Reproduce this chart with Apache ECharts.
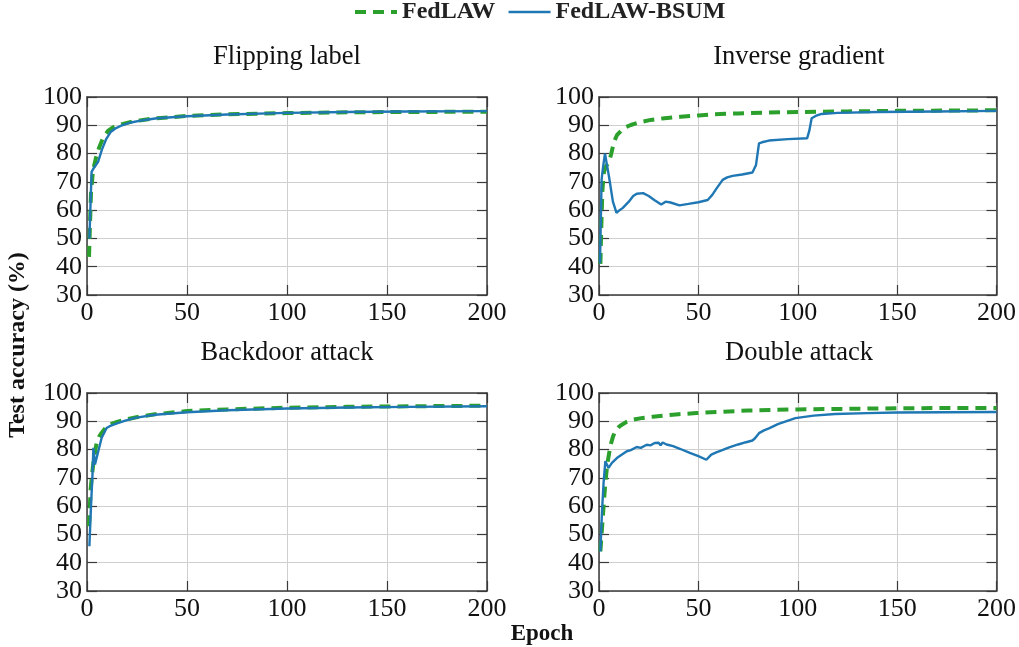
<!DOCTYPE html>
<html>
<head>
<meta charset="utf-8">
<script src="https://cdn.jsdelivr.net/npm/echarts@6/dist/echarts.min.js"></script>
<style>html,body{margin:0;padding:0;background:#fff;}#c{width:1019px;height:647px;}</style>
</head>
<body>
<div id="c"></div>
<script>
// ---- Data ----
const panelTitles = ['Flipping label', 'Inverse gradient', 'Backdoor attack', 'Double attack'];
const xTicks = [0, 50, 100, 150, 200];
const yTicks = [30, 40, 50, 60, 70, 80, 90, 100];

const flipEpochsFed = [1, 1.5, 2, 3, 4.5, 6, 8, 10.5, 13, 17, 22, 28, 35, 50, 70, 100, 130, 160, 200];
const flipFedLAW    = [43.5, 55, 66, 74, 78.5, 82, 85.5, 88, 89.3, 90.3, 91.2, 91.9, 92.5, 93.3, 93.9, 94.3, 94.6, 94.7, 94.8];
const flipEpochsBsum = [1.2, 1.8, 2.3, 3.5, 5.5, 7.5, 9.5, 11.8, 14, 17.5, 22, 28, 35, 50, 70, 100, 130, 160, 200];
const flipBSUM       = [50, 63, 73.5, 75, 77, 81.5, 85, 87.6, 88.8, 90, 91, 91.8, 92.5, 93.2, 93.8, 94.4, 94.7, 94.9, 95];

const invEpochsFed = [0.7, 1.2, 1.7, 2.5, 3.5, 5, 6, 7.5, 9, 11, 13, 16, 20, 26, 33, 41, 50, 58, 70, 85, 100, 125, 150, 175, 200];
const invFedLAW    = [41, 55, 67, 73.5, 75.5, 77, 79.5, 84, 86.5, 88, 89.2, 90.1, 91, 91.9, 92.5, 93, 93.5, 93.9, 94.2, 94.5, 94.7, 94.9, 95.1, 95.2, 95.3];
const invEpochsBsum = [0.5, 1.3, 2, 3, 4, 5, 7, 8.8, 10, 12, 15, 17.2, 19, 22.2, 25, 28, 31.3, 33.5, 36, 40.5, 45, 50, 54.7, 57, 59, 62.2, 64.5, 67.2, 72, 77.2, 79, 80.5, 82, 85.5, 95, 104.7, 105.8, 107, 109, 112, 120, 140, 170, 200];
const invBSUM       = [41.2, 70.7, 75, 80, 76, 72, 63, 59, 59.8, 60.8, 63, 65, 65.8, 66, 65, 63.5, 62, 63, 62.7, 61.7, 62.2, 62.8, 63.6, 65.4, 67.5, 70.7, 71.6, 72.1, 72.6, 73.3, 76, 83.6, 84, 84.6, 85.1, 85.4, 88, 92.5, 93.3, 94, 94.4, 94.7, 94.9, 95.1];

const backEpochsFed = [1, 1.8, 2.5, 3.2, 4, 4.8, 6, 7.3, 9.8, 12, 15, 20, 26, 34, 50, 70, 100, 130, 160, 200];
const backFedLAW    = [52.9, 65.8, 71, 75.3, 79, 82.3, 84.5, 85.9, 88.2, 89, 89.8, 90.7, 91.6, 92.5, 93.6, 94.2, 94.8, 95.1, 95.3, 95.5];
const backEpochsBsum = [1.2, 2, 2.7, 3.2, 4, 4.8, 5.5, 7.3, 9.8, 12, 15.7, 20, 24, 34, 50, 70, 100, 130, 160, 200];
const backBSUM       = [45.8, 60, 70.5, 80.6, 74.7, 77, 76.5, 84.1, 87.6, 88.5, 89.4, 90.4, 91.2, 92.3, 93.2, 93.9, 94.5, 94.9, 95.1, 95.3];

const dblEpochsFed = [0.7, 1.5, 2.5, 3.3, 4.2, 5.7, 7, 8.2, 10, 11.5, 14, 17.3, 22, 27, 32.3, 40, 49, 59, 75, 100, 125, 150, 175, 200];
const dblFedLAW    = [44, 52, 62, 69, 75, 81.2, 84.5, 86.5, 88, 88.8, 89.8, 90.6, 91.2, 91.6, 92, 92.5, 92.9, 93.3, 93.8, 94.2, 94.4, 94.6, 94.7, 94.7];
const dblEpochsBsum = [0.7, 1.5, 2.3, 3.2, 4.8, 6.5, 9, 11, 14, 16, 19, 21, 24, 26, 28, 29, 30, 31, 32, 34, 37.3, 41, 45.7, 50, 54, 54.8, 56.5, 59, 62, 65.5, 70, 74, 77.2, 78.5, 80.5, 83, 85.5, 90, 98.8, 108, 118.8, 135, 150, 175, 200];
const dblBSUM       = [44, 58, 68.2, 75.9, 73.5, 75.3, 77, 78, 79.4, 79.8, 80.9, 80.6, 81.7, 81.5, 82.3, 81.6, 82.4, 81.5, 82.5, 81.8, 81.2, 80.2, 78.8, 77.7, 76.4, 76, 78.2, 79, 79.8, 80.8, 81.8, 82.6, 83.2, 84, 85.8, 86.8, 87.5, 89, 91.1, 92, 92.6, 92.9, 93.1, 93.2, 93.3];

const fedSets  = [[flipEpochsFed, flipFedLAW], [invEpochsFed, invFedLAW], [backEpochsFed, backFedLAW], [dblEpochsFed, dblFedLAW]];
const bsumSets = [[flipEpochsBsum, flipBSUM], [invEpochsBsum, invBSUM], [backEpochsBsum, backBSUM], [dblEpochsBsum, dblBSUM]];

// ---- Layout / style ----
const FONT = '"Liberation Serif", "Times New Roman", serif';
const GREEN = '#2ca02c', BLUE = '#1f77b4';
const frame = '#3a3a3a';
const gridsPos = [
  {left: 87, top: 97, width: 400, height: 198},
  {left: 599, top: 97, width: 400, height: 198},
  {left: 87, top: 393, width: 400, height: 198},
  {left: 599, top: 393, width: 400, height: 198}
];
const zip = (xs, ys) => xs.map((x, i) => [x, ys[i]]);

const grid = [], xAxis = [], yAxis = [], series = [], graphic = [];
gridsPos.forEach((g, i) => {
  grid.push(Object.assign({containLabel: false}, g));
  const tickStyle = {show: true, inside: true, length: 10, lineStyle: {color: frame, width: 1.2}};
  xAxis.push({
    type: 'value', gridIndex: i, min: xTicks[0], max: xTicks[xTicks.length - 1], interval: 50,
    position: 'bottom',
    axisLine: {show: true, onZero: false, lineStyle: {color: frame, width: 1.5}},
    axisTick: tickStyle,
    axisLabel: {color: '#111', fontFamily: FONT, fontSize: 26, margin: 5},
    splitLine: {show: true, lineStyle: {color: '#cfcfcf', width: 1}}
  });
  xAxis.push({
    type: 'value', gridIndex: i, min: 0, max: 200, interval: 50, position: 'top',
    axisLine: {show: true, onZero: false, lineStyle: {color: frame, width: 1.5}},
    axisTick: tickStyle, axisLabel: {show: false}, splitLine: {show: false}
  });
  yAxis.push({
    type: 'value', gridIndex: i, min: yTicks[0], max: yTicks[yTicks.length - 1], interval: 10,
    position: 'left',
    axisLine: {show: true, onZero: false, lineStyle: {color: frame, width: 1.5}},
    axisTick: tickStyle,
    axisLabel: {color: '#111', fontFamily: FONT, fontSize: 26, margin: 5},
    splitLine: {show: true, lineStyle: {color: '#cfcfcf', width: 1}}
  });
  yAxis.push({
    type: 'value', gridIndex: i, min: 30, max: 100, interval: 10, position: 'right',
    axisLine: {show: true, onZero: false, lineStyle: {color: frame, width: 1.5}},
    axisTick: tickStyle, axisLabel: {show: false}, splitLine: {show: false}
  });
  series.push({
    name: 'FedLAW-BSUM', type: 'line', xAxisIndex: 2 * i, yAxisIndex: 2 * i,
    data: zip(bsumSets[i][0], bsumSets[i][1]), showSymbol: false, symbol: 'none',
    lineStyle: {color: BLUE, width: 2.4}, itemStyle: {color: BLUE}, z: 3, animation: false
  });
  series.push({
    name: 'FedLAW', type: 'line', xAxisIndex: 2 * i, yAxisIndex: 2 * i,
    data: zip(fedSets[i][0], fedSets[i][1]), showSymbol: false, symbol: 'none',
    lineStyle: {color: GREEN, width: 4, type: [11, 7]}, itemStyle: {color: GREEN}, z: 2, animation: false
  });
  graphic.push({
    type: 'text', x: g.left + g.width / 2, y: g.top - 40,
    style: {text: panelTitles[i], fill: '#111', font: '26.5px ' + FONT, textAlign: 'center', textVerticalAlign: 'middle'}
  });
});

graphic.push({
  type: 'text', x: 542, y: 634,
  style: {text: 'Epoch', fill: '#111', font: 'bold 23px ' + FONT, textAlign: 'center', textVerticalAlign: 'middle'}
});
graphic.push({
  type: 'text', x: 18, y: 345, rotation: Math.PI / 2,
  style: {text: 'Test accuracy (%)', fill: '#111', font: 'bold 24px ' + FONT, textAlign: 'center', textVerticalAlign: 'middle'}
});

const chart = echarts.init(document.getElementById('c'), null, {renderer: 'canvas'});
chart.setOption({
  animation: false,
  backgroundColor: '#fff',
  legend: {
    top: 0, left: 353, itemWidth: 42, itemHeight: 14, itemGap: 12, padding: [0, 5, 0, 0],
    data: [
      {name: 'FedLAW', itemStyle: {opacity: 0}, lineStyle: {color: GREEN, width: 4, type: [11, 7]}},
      {name: 'FedLAW-BSUM', itemStyle: {opacity: 0}, lineStyle: {color: BLUE, width: 2.4}}
    ],
    textStyle: {fontFamily: FONT, fontWeight: 'bold', fontSize: 24, color: '#222'}
  },
  grid, xAxis, yAxis, series, graphic
});
</script>
</body>
</html>
